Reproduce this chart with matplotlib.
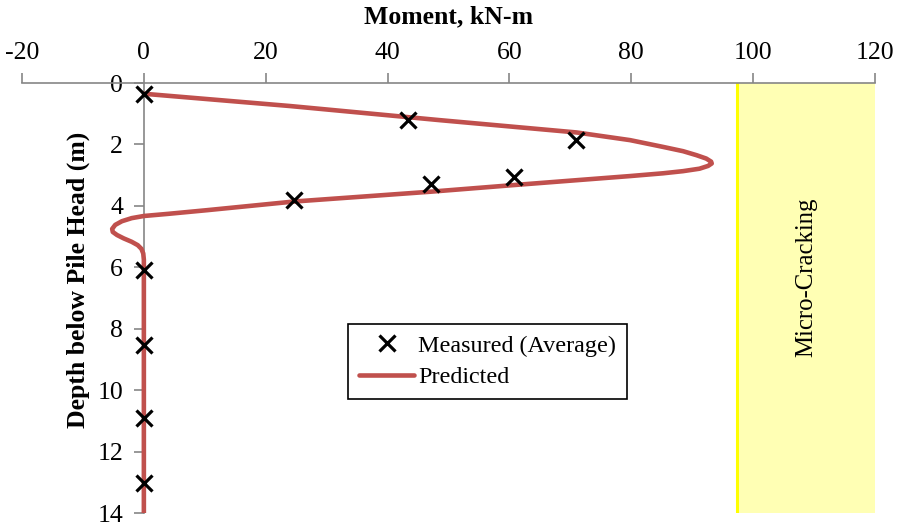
import matplotlib
matplotlib.use("Agg")
import matplotlib.pyplot as plt
from matplotlib.lines import Line2D

plt.rcParams["font.family"] = ["Liberation Serif", "DejaVu Serif"]

# Measured bending moment (average of gauges) versus depth
measured_moment = [0, 43.4, 71.0, 60.8, 47.2, 24.6, 0, 0, 0, 0]
measured_depth = [0.35, 1.2, 1.86, 3.05, 3.29, 3.81, 6.09, 8.53, 10.91, 13.02]

# Predicted bending moment profile
predicted_moment = [0, 24.0, 48.6, 71.0, 79.8, 85.2, 88.5, 90.7, 92.3, 93.1,
                    93.2, 92.6, 91.2, 88.5, 85.2, 79.8, 70.0, 60.9, 47.0, 24.6,
                    10.4, 4.0, 0, -2.0, -3.6, -4.7, -5.2, -5.1, -4.4, -3.3,
                    -2.0, -1.0, -0.4, -0.1, 0, 0]
predicted_depth = [0.35, 0.75, 1.21, 1.61, 1.86, 2.08, 2.22, 2.35, 2.46, 2.56,
                   2.62, 2.70, 2.79, 2.87, 2.94, 3.03, 3.18, 3.32, 3.54, 3.86,
                   4.14, 4.26, 4.33, 4.40, 4.50, 4.62, 4.75, 4.85, 4.95, 5.06,
                   5.17, 5.28, 5.40, 5.55, 5.75, 14.0]

# Micro-cracking zone
crack_start = 97.4
crack_end = 120

x_ticks = [-20, 0, 20, 40, 60, 80, 100, 120]
y_ticks = [0, 2, 4, 6, 8, 10, 12, 14]

W, H = 899, 529
fig = plt.figure(figsize=(W / 100, H / 100), dpi=100)
ax = fig.add_axes([22 / W, 1 - 513 / H, (875 - 22) / W, (513 - 83) / H])

axis_grey = "#868686"
fs = 18.5
leg_fs = 17.4

ax.set_xlim(-20, 120)
ax.set_ylim(14, 0)

ax.axvspan(crack_start, crack_end, facecolor="#FFFFB4", edgecolor="none", zorder=0)
ax.axvline(crack_start, color="#FFFF00", lw=2.2, zorder=0.5)
ax.text((crack_start + crack_end) / 2 + 0.1, 6.32, "Micro-Cracking", rotation=90,
        ha="center", va="center", fontsize=leg_fs + 0.4)

ax.plot(predicted_moment, predicted_depth, color="#C0504D", lw=3.3,
        solid_capstyle="round", solid_joinstyle="round", zorder=3)
ax.plot(measured_moment, measured_depth, linestyle="none", marker="x",
        markersize=11, markeredgewidth=2.3, color="black", zorder=4, clip_on=False)

# Axes styling: moment axis on top, depth axis through zero
for side in ("bottom", "right"):
    ax.spines[side].set_visible(False)
ax.spines["top"].set_color(axis_grey)
ax.spines["left"].set_color(axis_grey)
ax.spines["top"].set_linewidth(1.2)
ax.spines["left"].set_linewidth(1.2)
ax.spines["left"].set_position(("data", 0))
ax.spines["left"].set_zorder(1)

ax.xaxis.tick_top()
ax.set_xticks(x_ticks)
ax.set_xticklabels([str(v) for v in x_ticks])
ax.set_yticks(y_ticks)
ax.set_yticklabels([str(v) for v in y_ticks])
ax.tick_params(axis="x", direction="out", length=7, width=1.2, color=axis_grey,
               labelsize=fs, pad=7)
ax.tick_params(axis="y", direction="out", length=7, width=1.2, color=axis_grey,
               labelsize=fs, pad=8)
ax.patch.set_alpha(0)

fig.text(448.5 / W, 1 - 17 / H, "Moment, kN-m", ha="center", va="center",
         fontsize=fs, fontweight="bold")
fig.text(78 / W, 1 - 280 / H, "Depth below Pile Head (m)", ha="center", va="center",
         rotation=90, fontsize=fs, fontweight="bold")

handles = [
    Line2D([], [], linestyle="none", marker="x", markersize=11, markeredgewidth=2.3,
           color="black", label="Measured (Average)"),
    Line2D([], [], color="#C0504D", lw=3.3, solid_capstyle="round", label="Predicted"),
]
leg = fig.legend(handles=handles, loc="upper left",
                 bbox_to_anchor=(348 / W, 1 - 324 / H), bbox_transform=fig.transFigure,
                 fontsize=leg_fs, frameon=True, fancybox=False, framealpha=1,
                 edgecolor="black", handlelength=2.3, handletextpad=0.15,
                 borderpad=0.45, labelspacing=0.4, borderaxespad=0)
leg.get_frame().set_linewidth(1.2)

fig.savefig("out.png", dpi=100)
